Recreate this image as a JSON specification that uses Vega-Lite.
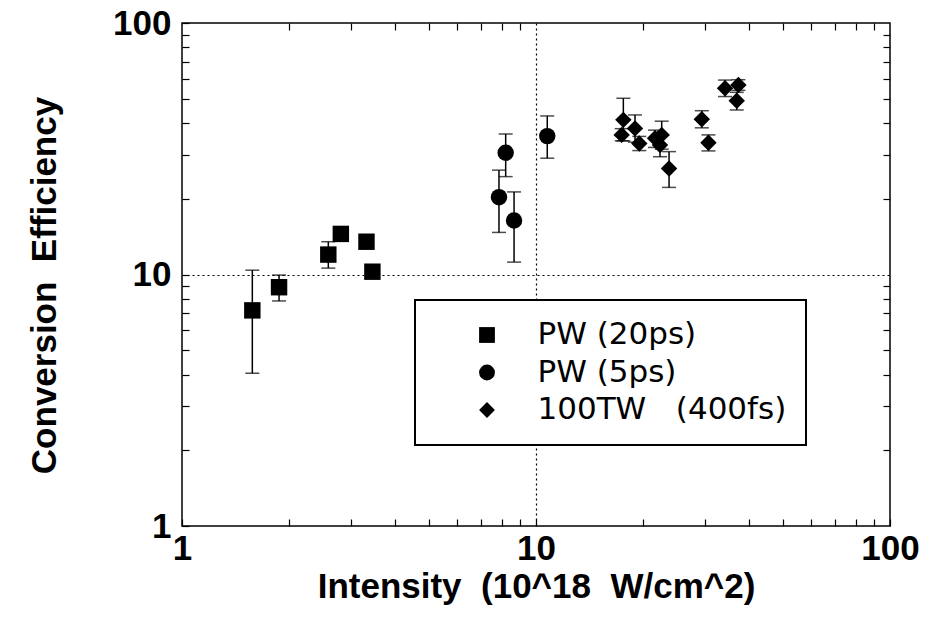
{
  "$schema": "https://vega.github.io/schema/vega-lite/v6.json",
  "width": 708,
  "height": 503,
  "autosize": "none",
  "padding": {"left": 182, "top": 23, "right": 40, "bottom": 93},
  "background": "white",
  "config": {
    "view": {"stroke": "black", "strokeWidth": 1.5},
    "axis": {"domainColor": "black", "tickColor": "black", "labelColor": "black", "titleColor": "black"},
    "legend": {"strokeWidth": 2}
  },
  "data": {
    "values": [
      {"series": "PW (20ps)", "x": 1.58, "y": 7.2, "lo": 4.05, "hi": 10.4},
      {"series": "PW (20ps)", "x": 1.88, "y": 8.9, "lo": 7.85, "hi": 9.95},
      {"series": "PW (20ps)", "x": 2.59, "y": 12.0, "lo": 10.6, "hi": 13.5},
      {"series": "PW (20ps)", "x": 2.81, "y": 14.5, "lo": 14.5, "hi": 14.5},
      {"series": "PW (20ps)", "x": 3.32, "y": 13.5, "lo": 13.5, "hi": 13.5},
      {"series": "PW (20ps)", "x": 3.45, "y": 10.26, "lo": 10.26, "hi": 10.26},
      {"series": "PW (5ps)", "x": 8.21, "y": 30.5, "lo": 24.5, "hi": 36.2},
      {"series": "PW (5ps)", "x": 7.86, "y": 20.3, "lo": 14.7, "hi": 26.0},
      {"series": "PW (5ps)", "x": 8.67, "y": 16.4, "lo": 11.2, "hi": 21.3},
      {"series": "PW (5ps)", "x": 10.76, "y": 35.5, "lo": 29.0, "hi": 42.7},
      {"series": "100TW   (400fs)", "x": 17.65, "y": 41.2, "lo": 34.0, "hi": 50.2},
      {"series": "100TW   (400fs)", "x": 17.46, "y": 35.9, "lo": 34.0, "hi": 38.0},
      {"series": "100TW   (400fs)", "x": 19.04, "y": 38.1, "lo": 33.6, "hi": 43.1},
      {"series": "100TW   (400fs)", "x": 19.58, "y": 33.2, "lo": 31.1, "hi": 35.4},
      {"series": "100TW   (400fs)", "x": 21.69, "y": 34.8, "lo": 32.0, "hi": 37.5},
      {"series": "100TW   (400fs)", "x": 22.65, "y": 35.9, "lo": 31.5, "hi": 40.7},
      {"series": "100TW   (400fs)", "x": 22.4, "y": 32.7, "lo": 29.4, "hi": 36.0},
      {"series": "100TW   (400fs)", "x": 23.76, "y": 26.4, "lo": 22.2, "hi": 30.8},
      {"series": "100TW   (400fs)", "x": 29.4, "y": 41.4, "lo": 38.3, "hi": 44.8},
      {"series": "100TW   (400fs)", "x": 30.7, "y": 33.4, "lo": 31.0, "hi": 35.9},
      {"series": "100TW   (400fs)", "x": 34.2, "y": 55.0, "lo": 51.0, "hi": 59.3},
      {"series": "100TW   (400fs)", "x": 37.3, "y": 56.7, "lo": 54.0, "hi": 59.5},
      {"series": "100TW   (400fs)", "x": 36.9, "y": 49.1, "lo": 45.1, "hi": 53.0}
    ]
  },
  "resolve": {"axis": {"x": "independent", "y": "independent"}},
  "layer": [
    {
      "mark": {"type": "rule", "color": "black", "strokeWidth": 1.5},
      "encoding": {
        "x": {
          "field": "x", "type": "quantitative",
          "scale": {"type": "log", "domain": [1, 100], "nice": false},
          "axis": {
            "orient": "bottom",
            "values": [1, 2, 3, 4, 5, 6, 7, 8, 9, 10, 20, 30, 40, 50, 60, 70, 80, 90, 100],
            "labelExpr": "datum.value == 1 || datum.value == 10 || datum.value == 100 ? format(datum.value, 'd') : ''",
            "labelFlush": false, "labelOverlap": false,
            "labelFont": "Liberation Sans", "labelFontWeight": "bold", "labelFontSize": 35,
            "labelPadding": 12,
            "tickSize": -7, "tickWidth": 1.2,
            "domain": false,
            "grid": true, "gridColor": "black", "gridDash": [2, 3], "gridWidth": 1.2,
            "gridOpacity": {"condition": {"test": "datum.value == 10", "value": 1}, "value": 0},
            "title": "Intensity\u00a0\u00a0(10^18\u00a0\u00a0W/cm^2)",
            "titleFont": "Liberation Sans", "titleFontWeight": "bold", "titleFontSize": 35,
            "titlePadding": 3
          }
        },
        "y": {
          "field": "lo", "type": "quantitative",
          "scale": {"type": "log", "domain": [1, 100], "nice": false},
          "axis": {
            "orient": "left",
            "values": [1, 2, 3, 4, 5, 6, 7, 8, 9, 10, 20, 30, 40, 50, 60, 70, 80, 90, 100],
            "labelExpr": "datum.value == 1 || datum.value == 10 || datum.value == 100 ? format(datum.value, 'd') : ''",
            "labelFlush": false, "labelOverlap": false,
            "labelFont": "Liberation Sans", "labelFontWeight": "bold", "labelFontSize": 35,
            "labelPadding": 18,
            "tickSize": -7, "tickWidth": 1.2,
            "domain": false,
            "grid": true, "gridColor": "black", "gridDash": [2, 3], "gridWidth": 1.2,
            "gridOpacity": {"condition": {"test": "datum.value == 10", "value": 1}, "value": 0},
            "title": "Conversion\u00a0\u00a0Efficiency",
            "titleFont": "Liberation Sans", "titleFontWeight": "bold", "titleFontSize": 35,
            "titlePadding": 50,
            "titleY": 262
          }
        },
        "y2": {"field": "hi"}
      }
    },
    {
      "mark": {"type": "tick", "orient": "horizontal", "color": "black", "size": 14, "thickness": 1.5},
      "encoding": {
        "x": {
          "field": "x", "type": "quantitative",
          "axis": {
            "orient": "top",
            "values": [2, 3, 4, 5, 6, 7, 8, 9, 20, 30, 40, 50, 60, 70, 80, 90],
            "labels": false, "domain": false, "grid": false,
            "tickSize": -7, "tickWidth": 1.2, "title": null
          }
        },
        "y": {
          "field": "lo", "type": "quantitative",
          "axis": {
            "orient": "right",
            "values": [2, 3, 4, 5, 6, 7, 8, 9, 20, 30, 40, 50, 60, 70, 80, 90],
            "labels": false, "domain": false, "grid": false,
            "tickSize": -7, "tickWidth": 1.2, "title": null
          }
        }
      }
    },
    {
      "mark": {"type": "tick", "orient": "horizontal", "color": "black", "size": 14, "thickness": 1.5},
      "encoding": {
        "x": {"field": "x", "type": "quantitative", "axis": null},
        "y": {"field": "hi", "type": "quantitative", "axis": null}
      }
    },
    {
      "mark": {"type": "point", "filled": true, "color": "black", "opacity": 1, "size": 270},
      "encoding": {
        "x": {"field": "x", "type": "quantitative", "axis": null},
        "y": {"field": "y", "type": "quantitative", "axis": null},
        "shape": {
          "field": "series", "type": "nominal",
          "scale": {"domain": ["PW (20ps)", "PW (5ps)", "100TW   (400fs)"], "range": ["square", "circle", "diamond"]},
          "legend": {
            "orient": "none", "legendX": 233, "legendY": 277,
            "title": null,
            "labelExpr": "replace(datum.label, /   /, '\u00a0\u00a0\u00a0')",
            "fillColor": "white", "strokeColor": "black",
            "padding": 19.5,
            "symbolSize": 250, "symbolFillColor": "black", "symbolStrokeColor": "black", "symbolStrokeWidth": 0,
            "symbolOffset": 37,
            "labelOffset": 35, "labelFont": "DejaVu Sans", "labelFontSize": 31, "labelColor": "black",
            "labelLimit": 400, "rowPadding": 5.5
          }
        }
      }
    }
  ]
}
